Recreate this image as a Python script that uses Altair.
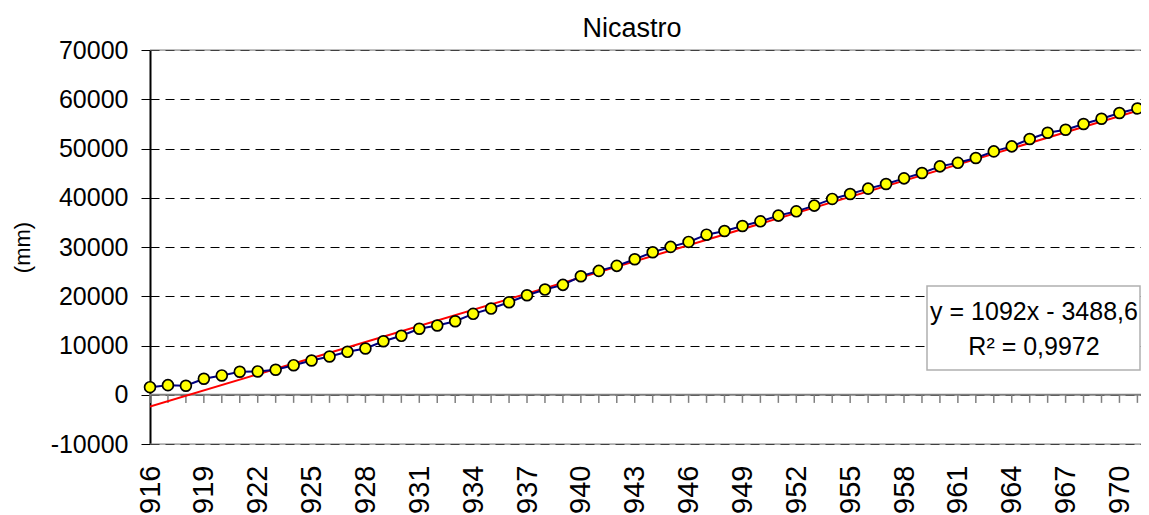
import altair as alt
import pandas as pd

# ---- data ----
YEARS = list(range(1916, 1972))
CUMULATIVE_MM = [
    1540, 1950, 1830, 3250, 3920, 4670, 4730, 5070, 6000, 6960,
    7770, 8720, 9390, 10870, 11970, 13400, 14060, 14930, 16430, 17500,
    18780, 20200, 21360, 22310, 24060, 25150, 26170, 27510, 28930, 30020,
    31030, 32500, 33250, 34270, 35210, 36370, 37240, 38400, 39760, 40770,
    41850, 42800, 43940, 45030, 46370, 47090, 48070, 49410, 50430, 51930,
    53200, 53810, 54970, 56040, 57200, 58130,
]
TICK_YEARS = list(range(1916, 1971, 3))
Y_TICKS = list(range(-10000, 70001, 10000))
TITLE = "Nicastro"
Y_TITLE = "(mm)"
TREND_SLOPE = 1092
TREND_INTERCEPT = -3488.6
EQUATION_LINES = ["y = 1092x - 3488,6", "R² = 0,9972"]
X_DOMAIN = [1916, 1971.2]
Y_DOMAIN = [-10000, 70000]

FONT = "Liberation Sans"
W, H = 991, 394

df = pd.DataFrame({"year": YEARS, "mm": CUMULATIVE_MM})
trend = pd.DataFrame({"year": X_DOMAIN})
trend["mm"] = TREND_SLOPE * (trend["year"] - (YEARS[0] - 1)) + TREND_INTERCEPT
title_df = pd.DataFrame({"t": [TITLE]})
eq1_df = pd.DataFrame({"t": [EQUATION_LINES[0]]})
eq2_df = pd.DataFrame({"t": [EQUATION_LINES[1]]})
border_df = pd.DataFrame({"mm": Y_DOMAIN})
one = pd.DataFrame({"k": [0]})

xs = alt.Scale(domain=X_DOMAIN, nice=False, zero=False)
ys = alt.Scale(domain=Y_DOMAIN, nice=False, zero=False)

x_axis = alt.Axis(
    values=TICK_YEARS, labelExpr="'' + datum.value", labelAngle=-90,
    labelFont=FONT, labelFontSize=29, labelColor="black", labelPadding=21,
    ticks=False, tickSize=0, domain=False, grid=False, title=None,
    labelFlush=False, labelOverlap=False,
)
y_axis = alt.Axis(
    values=Y_TICKS, labelExpr="'' + datum.value",
    labelFont=FONT, labelFontSize=25, labelColor="black", labelPadding=13,
    tickSize=9, tickColor="black", tickWidth=1,
    domainColor="black", domainWidth=2,
    grid=True, gridColor="black", gridDash=[9, 6], gridWidth=1,
    title=Y_TITLE, titleFont=FONT, titleFontSize=22, titleFontWeight="normal",
    titleColor="black", titleX=-121, titleY=H / 2, titleAngle=270,
    titleBaseline="alphabetic", titleAlign="center",
)

X = lambda: alt.X("year:Q", scale=xs, axis=x_axis)
Y = lambda: alt.Y("mm:Q", scale=ys, axis=y_axis)

# axis / grid carrier (invisible points)
base = alt.Chart(df).mark_point(opacity=0).encode(x=X(), y=Y())

# plot-area border (top and bottom), grey solid
border = alt.Chart(border_df).mark_rule(color="#808080", strokeWidth=1).encode(
    x=alt.value(0), x2=alt.value(W), y=Y(),
)

zero_line = alt.Chart(one).mark_rule(color="#808080", strokeWidth=2).encode(
    x=alt.value(0), x2=alt.value(W),
    y=alt.Y(datum=0, scale=ys, axis=y_axis),
)

ticks = alt.Chart(df).mark_rule(color="#808080", strokeWidth=1.5).encode(
    x=X(),
    y=alt.Y(datum=0, scale=ys, axis=y_axis),
    y2=alt.Y2(datum=-1650),
)

line = alt.Chart(df).mark_line(color="#000080", strokeWidth=2).encode(x=X(), y=Y())

trend_line = alt.Chart(trend).mark_line(color="#FF0000", strokeWidth=2, clip=True).encode(
    x=X(), y=Y()
)

points = alt.Chart(df).mark_point(
    filled=True, fill="#FFFF00", stroke="black", strokeWidth=1.7,
    size=118, opacity=1, shape="circle",
).encode(x=X(), y=Y())

title = alt.Chart(title_df).mark_text(
    font=FONT, fontSize=27, color="black", align="center", baseline="alphabetic",
).encode(text="t:N", x=alt.value(482), y=alt.value(-13))

eq_box = alt.Chart(one).mark_rect(fill="white", stroke="#b0b0b0", strokeWidth=1.5).encode(
    x=alt.value(777), x2=alt.value(990), y=alt.value(236), y2=alt.value(320),
)

eq_text1 = alt.Chart(eq1_df).mark_text(
    font=FONT, fontSize=25, color="black", align="center", baseline="alphabetic",
).encode(text="t:N", x=alt.value(884), y=alt.value(270))

eq_text2 = alt.Chart(eq2_df).mark_text(
    font=FONT, fontSize=25, color="black", align="center", baseline="alphabetic",
).encode(text="t:N", x=alt.value(884), y=alt.value(305))

chart = alt.layer(
    base, border, zero_line, ticks, trend_line, line, points,
    eq_box, eq_text1, eq_text2, title
).properties(
    width=W, height=H,
    autosize=alt.AutoSizeParams(type="none"),
    padding={"left": 142, "top": 42, "right": 0, "bottom": 71},
).configure_view(
    stroke=None,
).configure(background="white")

chart.save("out.html", embed_options={"renderer": "svg", "actions": False})
